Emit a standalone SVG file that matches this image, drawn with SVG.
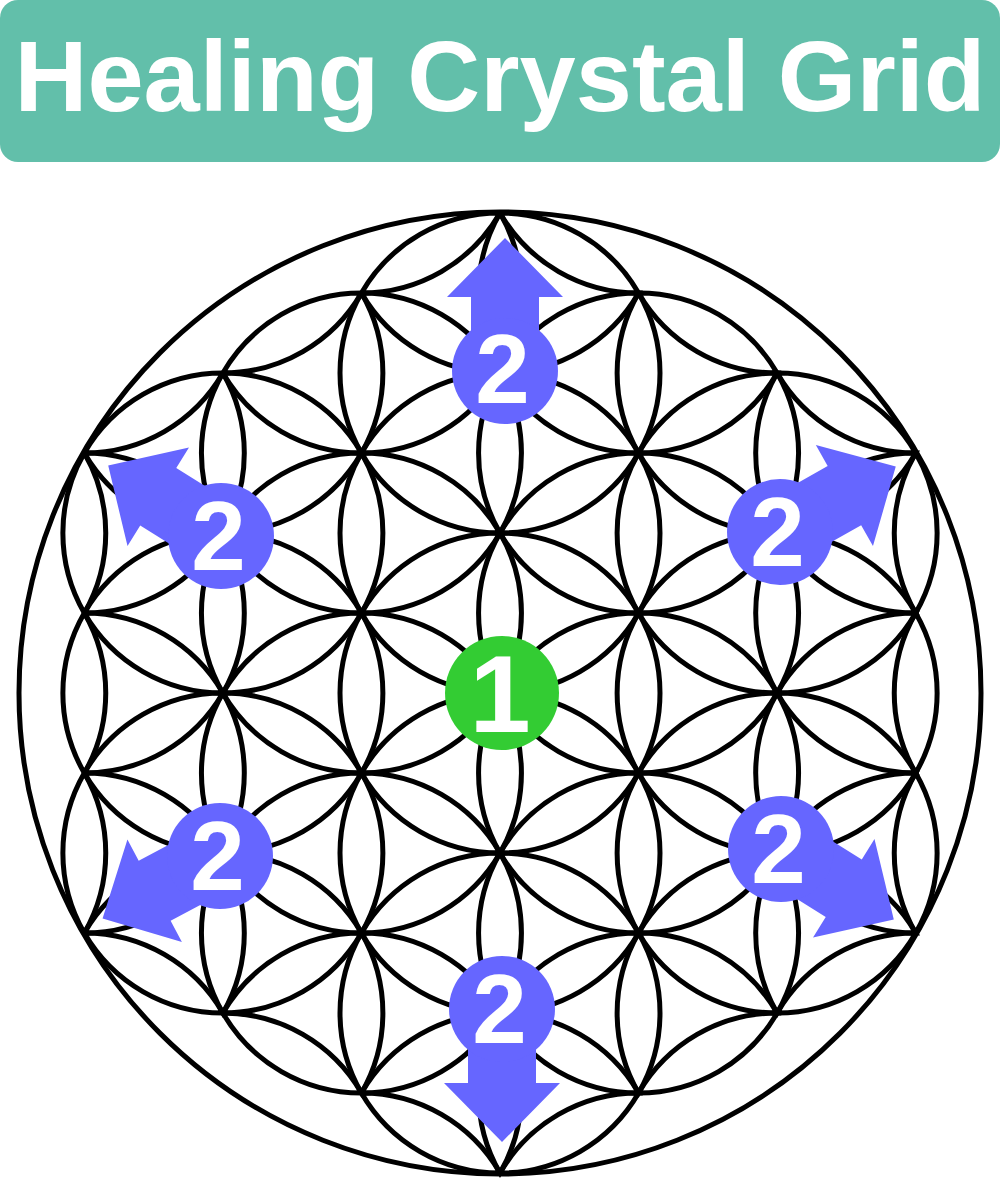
<svg xmlns="http://www.w3.org/2000/svg" xmlns:xlink="http://www.w3.org/1999/xlink" width="1000" height="1181" viewBox="0 0 1000 1181">
<style>
.fl{fill:none;stroke:#000;stroke-width:5}
.blue{fill:#6666ff}
.lbl{font-family:"Liberation Sans",Arial,sans-serif;font-weight:bold;fill:#fff;text-anchor:middle}
</style>
<defs>
<path id="pv" class="fl" d="M0,0 A160,160 0 0 0 0,160 A160,160 0 0 0 0,0"/>
<path id="pd1" class="fl" d="M0,0 A160,160 0 0 0 138.564,80 A160,160 0 0 0 0,0"/>
<path id="pd2" class="fl" d="M0,0 A160,160 0 0 0 138.564,-80 A160,160 0 0 0 0,0"/>
<path id="arrow" d="M0,-34 L74,-34 L74,-58 L133,0 L74,58 L74,34 L0,34 Z"/>
</defs>
<rect width="1000" height="1181" fill="#fff"/>
<g id="title">
<rect x="0" y="0" width="1000" height="162" rx="18" fill="#62bfaa"/>
<text class="lbl" x="500" y="111" font-size="101">Healing Crystal Grid</text>
</g>
<g id="flower">
<use xlink:href="#pv" x="500" y="213"/><use xlink:href="#pv" x="500" y="373"/><use xlink:href="#pv" x="500" y="533"/><use xlink:href="#pv" x="500" y="693"/><use xlink:href="#pv" x="500" y="853"/><use xlink:href="#pv" x="500" y="1013"/>
<use xlink:href="#pv" x="361.44" y="293"/><use xlink:href="#pv" x="361.44" y="453"/><use xlink:href="#pv" x="361.44" y="613"/><use xlink:href="#pv" x="361.44" y="773"/><use xlink:href="#pv" x="361.44" y="933"/>
<use xlink:href="#pv" x="638.56" y="293"/><use xlink:href="#pv" x="638.56" y="453"/><use xlink:href="#pv" x="638.56" y="613"/><use xlink:href="#pv" x="638.56" y="773"/><use xlink:href="#pv" x="638.56" y="933"/>
<use xlink:href="#pv" x="222.87" y="373"/><use xlink:href="#pv" x="222.87" y="533"/><use xlink:href="#pv" x="222.87" y="693"/><use xlink:href="#pv" x="222.87" y="853"/>
<use xlink:href="#pv" x="777.13" y="373"/><use xlink:href="#pv" x="777.13" y="533"/><use xlink:href="#pv" x="777.13" y="693"/><use xlink:href="#pv" x="777.13" y="853"/>
<use xlink:href="#pv" x="84.31" y="453"/><use xlink:href="#pv" x="84.31" y="613"/><use xlink:href="#pv" x="84.31" y="773"/>
<use xlink:href="#pv" x="915.69" y="453"/><use xlink:href="#pv" x="915.69" y="613"/><use xlink:href="#pv" x="915.69" y="773"/>
<use xlink:href="#pd1" x="84.31" y="453"/><use xlink:href="#pd1" x="84.31" y="613"/><use xlink:href="#pd1" x="84.31" y="773"/><use xlink:href="#pd1" x="84.31" y="933"/>
<use xlink:href="#pd1" x="222.87" y="373"/><use xlink:href="#pd1" x="222.87" y="533"/><use xlink:href="#pd1" x="222.87" y="693"/><use xlink:href="#pd1" x="222.87" y="853"/><use xlink:href="#pd1" x="222.87" y="1013"/>
<use xlink:href="#pd1" x="361.44" y="293"/><use xlink:href="#pd1" x="361.44" y="453"/><use xlink:href="#pd1" x="361.44" y="613"/><use xlink:href="#pd1" x="361.44" y="773"/><use xlink:href="#pd1" x="361.44" y="933"/><use xlink:href="#pd1" x="361.44" y="1093"/>
<use xlink:href="#pd1" x="500" y="213"/><use xlink:href="#pd1" x="500" y="373"/><use xlink:href="#pd1" x="500" y="533"/><use xlink:href="#pd1" x="500" y="693"/><use xlink:href="#pd1" x="500" y="853"/><use xlink:href="#pd1" x="500" y="1013"/>
<use xlink:href="#pd1" x="638.56" y="293"/><use xlink:href="#pd1" x="638.56" y="453"/><use xlink:href="#pd1" x="638.56" y="613"/><use xlink:href="#pd1" x="638.56" y="773"/><use xlink:href="#pd1" x="638.56" y="933"/>
<use xlink:href="#pd1" x="777.13" y="373"/><use xlink:href="#pd1" x="777.13" y="533"/><use xlink:href="#pd1" x="777.13" y="693"/><use xlink:href="#pd1" x="777.13" y="853"/>
<use xlink:href="#pd2" x="84.31" y="453"/><use xlink:href="#pd2" x="84.31" y="613"/><use xlink:href="#pd2" x="84.31" y="773"/><use xlink:href="#pd2" x="84.31" y="933"/>
<use xlink:href="#pd2" x="222.87" y="373"/><use xlink:href="#pd2" x="222.87" y="533"/><use xlink:href="#pd2" x="222.87" y="693"/><use xlink:href="#pd2" x="222.87" y="853"/><use xlink:href="#pd2" x="222.87" y="1013"/>
<use xlink:href="#pd2" x="361.44" y="293"/><use xlink:href="#pd2" x="361.44" y="453"/><use xlink:href="#pd2" x="361.44" y="613"/><use xlink:href="#pd2" x="361.44" y="773"/><use xlink:href="#pd2" x="361.44" y="933"/><use xlink:href="#pd2" x="361.44" y="1093"/>
<use xlink:href="#pd2" x="500" y="373"/><use xlink:href="#pd2" x="500" y="533"/><use xlink:href="#pd2" x="500" y="693"/><use xlink:href="#pd2" x="500" y="853"/><use xlink:href="#pd2" x="500" y="1013"/><use xlink:href="#pd2" x="500" y="1173"/>
<use xlink:href="#pd2" x="638.56" y="453"/><use xlink:href="#pd2" x="638.56" y="613"/><use xlink:href="#pd2" x="638.56" y="773"/><use xlink:href="#pd2" x="638.56" y="933"/><use xlink:href="#pd2" x="638.56" y="1093"/>
<use xlink:href="#pd2" x="777.13" y="533"/><use xlink:href="#pd2" x="777.13" y="693"/><use xlink:href="#pd2" x="777.13" y="853"/><use xlink:href="#pd2" x="777.13" y="1013"/>
<circle class="fl" cx="500" cy="693" r="481"/>
</g>
<g id="connectors">
<use xlink:href="#arrow" class="blue" transform="translate(505,371) rotate(-90)"/>
<use xlink:href="#arrow" class="blue" transform="translate(780,532) rotate(-29.5)"/>
<use xlink:href="#arrow" class="blue" transform="translate(781,849) rotate(32)"/>
<use xlink:href="#arrow" class="blue" transform="translate(502,1009) rotate(90)"/>
<use xlink:href="#arrow" class="blue" transform="translate(220,856) rotate(152)"/>
<use xlink:href="#arrow" class="blue" transform="translate(221,536) rotate(212)"/>
</g>
<g id="node-center">
<circle cx="502" cy="693" r="57" fill="#33cc33"/>
<text class="lbl" x="500" y="732" font-size="110">1</text>
</g>
<g id="node-top">
<circle class="blue" cx="505" cy="371" r="53"/>
<text class="lbl" x="502.5" y="403" font-size="98">2</text>
</g>
<g id="node-upper-right">
<circle class="blue" cx="780" cy="532" r="53"/>
<text class="lbl" x="777.5" y="566" font-size="98">2</text>
</g>
<g id="node-lower-right">
<circle class="blue" cx="781" cy="849" r="53"/>
<text class="lbl" x="778.5" y="883" font-size="98">2</text>
</g>
<g id="node-bottom">
<circle class="blue" cx="502" cy="1009" r="53"/>
<text class="lbl" x="499.5" y="1043" font-size="98">2</text>
</g>
<g id="node-lower-left">
<circle class="blue" cx="220" cy="856" r="53"/>
<text class="lbl" x="217.5" y="890" font-size="98">2</text>
</g>
<g id="node-upper-left">
<circle class="blue" cx="221" cy="536" r="53"/>
<text class="lbl" x="218.5" y="570" font-size="98">2</text>
</g>
</svg>
